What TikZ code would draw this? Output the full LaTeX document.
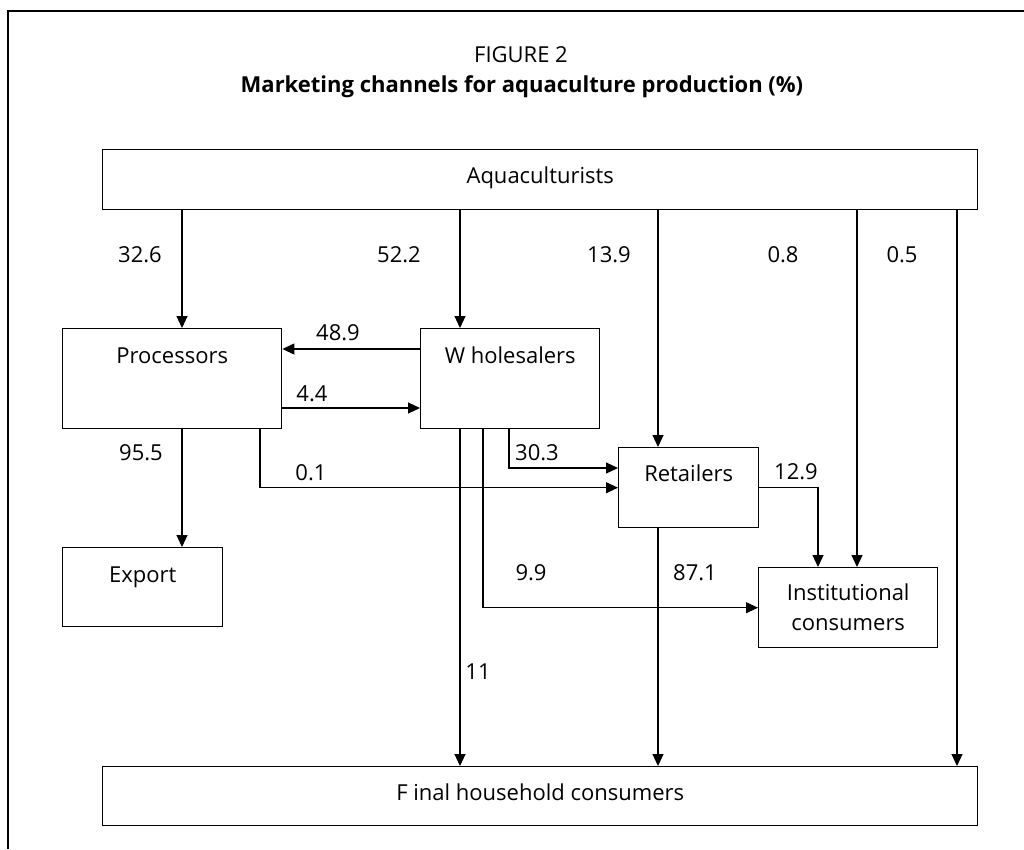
\documentclass[tikz,border=0pt]{standalone}
\usepackage{fontspec}
\setmainfont{Open Sans}
\usetikzlibrary{arrows.meta}

\begin{document}
\begin{tikzpicture}[x=1pt,y=-1pt,
  box/.style={draw,line width=1.4pt,inner sep=0pt,anchor=north west,align=center,font=\fontsize{22}{30}\selectfont},
  lbl/.style={font=\fontsize{22}{26}\selectfont},
  ar/.style={-{Triangle[length=12pt,width=11pt]},line width=1.1pt}]
\useasboundingbox (0,0) rectangle (1024,849);
\draw[line width=1.4pt] (8,849) -- (8,11) -- (1024,11);
% title
\node[lbl] (fig) at (521,55) {FIGURE 2};
\node[lbl,font=\bfseries\fontsize{22}{26}\selectfont] (ttl) at (522,87) {Marketing channels for aquaculture production (\%)};
% boxes
\node[box,minimum width=875pt,text height=34pt,text depth=26pt] (aq) at (102,149) {Aquaculturists};
\node[box,minimum width=219pt,text height=35pt,text depth=65pt] (pr) at (62,328) {Processors};
\node[box,minimum width=179pt,text height=35pt,text depth=65pt] (wh) at (420,328) {W holesalers};
\node[box,minimum width=140pt,text height=34pt,text depth=46pt] (re) at (618,447) {Retailers};
\node[box,minimum width=160pt,text height=35pt,text depth=44pt] (ex) at (62,547) {Export};
\node[box,minimum width=179pt,minimum height=80pt] (in) at (758,567) {Institutional\\consumers};
\node[box,minimum width=875pt,text height=34pt,text depth=25pt] (fi) at (102,766) {F inal household consumers};
% flows
\foreach \x/\t in {182/pr,460/wh,658/re,857/in,957/fi}
  \draw[ar] (\x,0 |- aq.south) -- (\x,0 |- \t.north);
\draw[ar] (wh.west |- 0,349) -- (pr.east |- 0,349);
\draw[ar] (pr.east |- 0,408) -- (wh.west |- 0,408);
\draw[ar] (182,0 |- pr.south) -- (182,0 |- ex.north);
\draw[ar] (260,0 |- pr.south) |- (re.west);
\draw[ar] (509,0 |- wh.south) |- (re.west |- 0,468);
\draw[ar] (483,0 |- wh.south) |- (in.west);
\draw[ar] (460,0 |- wh.south) -- (460,0 |- fi.north);
\draw[ar] (658,0 |- re.south) -- (658,0 |- fi.north);
\draw[ar] (re.east) -| (818,0 |- in.north);
% shares
\foreach \nm/\x/\y/\t in {s1/140/255/32.6,s2/399/255/52.2,s3/609/255/13.9,s4/783/255/0.8,s5/902/255/0.5,
  s6/338/333/48.9,s7/312/394/4.4,s8/141/453/95.5,s9/311/473/0.1,s10/537/453/30.3,
  s11/796/472/12.9,s12/531/573/9.9,s13/695/573/87.1,s14/478/672/11}
  \node[lbl] (\nm) at (\x,\y) {\t};
\end{tikzpicture}
\end{document}
